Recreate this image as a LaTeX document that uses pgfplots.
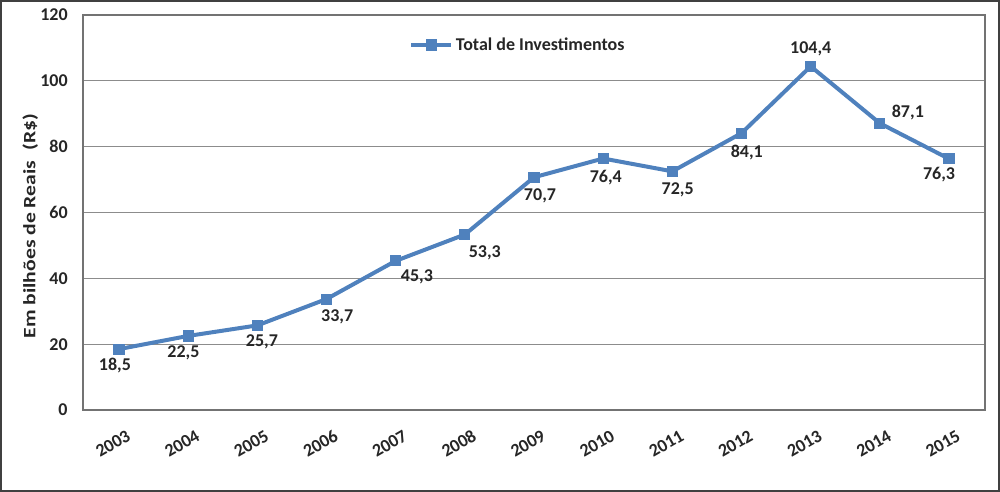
\documentclass[border=0pt]{standalone}
\usepackage{pgfplots}
\pgfplotsset{compat=1.18}
\usepackage{pgfplotstable}
\usepackage{fontspec}
\setmainfont{Carlito}
\definecolor{serie}{RGB}{79,129,189}
\definecolor{grade}{RGB}{140,140,140}

% offsets dx, dy of the value labels, in pt
\pgfplotstableread{
ano valor dx dy
2003 18.5 -3 -12.5
2004 22.5 -3.5 -12.5
2005 25.7 3.5 -12.5
2006 33.7 8 -13.5
2007 45.3 16 -12
2008 53.3 15 -13.5
2009 70.7 4.5 -14
2010 76.4 2 -14
2011 72.5 4 -14
2012 84.1 4 -14.5
2013 104.4 0 13
2014 87.1 21 8
2015 76.3 -7.5 -11.5
}\dados

\begin{document}
\begin{tikzpicture}
\draw[line width=1.5pt, color=black!75] (0.75pt,0.75pt) rectangle (749.25pt,368.25pt);
\begin{axis}[
  at={(62.25pt,61.5pt)}, anchor=south west,
  scale only axis, width=676.5pt, height=296.25pt,
  xmin=2002.48, xmax=2015.52, ymin=0, ymax=120,
  xtick={2003,...,2015}, ytick={0,20,...,120},
  /pgf/number format/1000 sep={},
  /pgf/number format/assume math mode=true,
  ymajorgrids, grid style={grade, line width=0.8pt},
  axis line style={black!55, line width=0.8pt},
  major tick length=0pt,
  tick label style={font=\bfseries\fontsize{13.5}{14}\selectfont, text=black!85},
  xticklabel style={rotate=30, anchor=center, xshift=-16.5pt, yshift=-19.5pt},
  yticklabel style={xshift=-8pt},
  ylabel={Em bilhões de Reais\ \ (R\$)},
  ylabel style={at={(axis description cs:-0.0585,0.465)}, anchor=center,
    font=\bfseries\fontsize{13}{13}\selectfont, text=black!85, xscale=1.25},
  legend style={at={(axis description cs:0.357,0.924)}, anchor=west,
    draw=none, fill=none, font=\bfseries\fontsize{13.5}{14}\selectfont,
    text=black!85},
  legend image code/.code={\draw[#1, mark repeat=2, mark phase=2]
    plot coordinates {(0pt,0pt) (15pt,0pt) (30pt,0pt)};},
  nodes near coords={\pgfmathprintnumber[fixed, fixed zerofill, precision=1, use comma, assume math mode=true]{\pgfplotspointmeta}},
  visualization depends on={\thisrow{dx} \as \dx},
  visualization depends on={\thisrow{dy} \as \dy},
  nodes near coords style={anchor=center, xshift=\dx pt, yshift=\dy pt,
    font=\bfseries\fontsize{13.5}{14}\selectfont, text=black!85},
]
\addplot[serie, line width=3pt, mark=square*, mark size=3.8pt,
  mark options={line width=0pt}] table[x=ano, y=valor] {\dados};
\addlegendentry{Total de Investimentos}
\end{axis}
\end{tikzpicture}
\end{document}
